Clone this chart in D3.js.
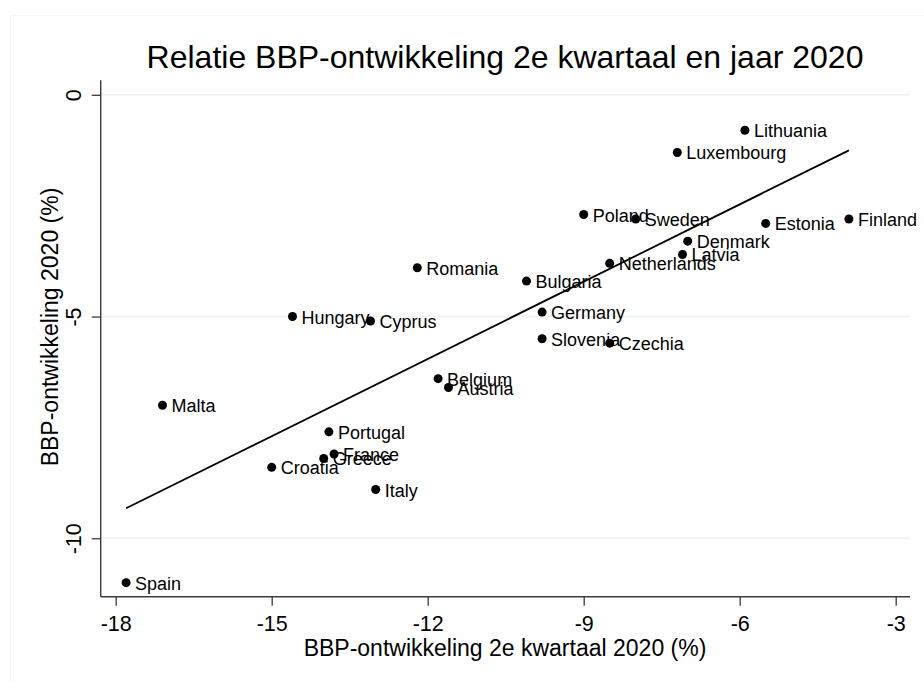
<!DOCTYPE html>
<html>
<head>
<meta charset="utf-8">
<script src="https://cdn.jsdelivr.net/npm/d3@7"></script>
<style>
  html, body { margin: 0; padding: 0; background: #ffffff; }
  svg { display: block; }
  text { font-family: "Liberation Sans", Arial, Helvetica, sans-serif; fill: #000; }
</style>
</head>
<body>
<svg id="chart" width="924" height="682"></svg>
<script>
// ---- data ----
const countries = ["Lithuania","Luxembourg","Poland","Sweden","Estonia","Finland","Denmark","Latvia","Netherlands","Romania","Bulgaria","Germany","Hungary","Cyprus","Slovenia","Czechia","Belgium","Austria","Malta","Portugal","France","Greece","Croatia","Italy","Spain"];
const q2Growth   = [-5.9, -7.2, -9.0, -8.0, -5.5, -3.9, -7.0, -7.1, -8.5, -12.2, -10.1, -9.8, -14.6, -13.1, -9.8, -8.5, -11.8, -11.6, -17.1, -13.9, -13.8, -14.0, -15.0, -13.0, -17.8];
const yearGrowth = [-0.8, -1.3, -2.7, -2.8, -2.9, -2.8, -3.3, -3.6, -3.8, -3.9, -4.2, -4.9, -5.0, -5.1, -5.5, -5.6, -6.4, -6.6, -7.0, -7.6, -8.1, -8.2, -8.4, -8.9, -11.0];
const xTicks = [-18, -15, -12, -9, -6, -3];
const yTicks = [0, -5, -10];
const titleText = "Relatie BBP-ontwikkeling 2e kwartaal en jaar 2020";
const xTitle = "BBP-ontwikkeling 2e kwartaal 2020 (%)";
const yTitle = "BBP-ontwikkeling 2020 (%)";

const data = countries.map((c, i) => ({ name: c, x: q2Growth[i], y: yearGrowth[i] }));

// ---- layout ----
const svg = d3.select("#chart");
const plot = { left: 100.7, right: 910, top: 80.3, bottom: 596.7 };

const x = d3.scaleLinear().domain([-18, -3]).range([115.7, 895.7]);
const y = d3.scaleLinear().domain([0, -10]).range([94.8, 538.3]);
const hyphenFmt = d => String(d); // plain hyphen-minus like the reference

// faint outer region border
svg.append("rect")
  .attr("x", 10.5).attr("y", 15.5).attr("width", 1000).attr("height", 1000)
  .attr("fill", "none").attr("stroke", "#f3f5f6").attr("stroke-width", 1);

// gridlines
svg.append("g").selectAll("line").data(yTicks).join("line")
  .attr("x1", plot.left).attr("x2", plot.right)
  .attr("y1", d => y(d)).attr("y2", d => y(d))
  .attr("stroke", "#eaf2f3").attr("stroke-width", 1.5);

// y axis
const yAxis = d3.axisLeft(y).tickValues(yTicks).tickSize(9).tickPadding(10).tickFormat(hyphenFmt);
const gy = svg.append("g").attr("transform", `translate(${plot.left},0)`).call(yAxis);
gy.select(".domain").remove();
gy.selectAll(".tick line").attr("stroke", "#3c3c3c").attr("stroke-width", 1.3);
gy.selectAll(".tick text")
  .attr("font-size", "21.5px")
  .attr("text-anchor", "middle")
  .attr("x", null).attr("dy", null)
  .attr("transform", "translate(-19.7,0) rotate(-90)");
gy.append("line")
  .attr("x1", 0).attr("x2", 0).attr("y1", plot.top).attr("y2", plot.bottom)
  .attr("stroke", "#3c3c3c").attr("stroke-width", 1.4);

// x axis
const xAxis = d3.axisBottom(x).tickValues(xTicks).tickSize(9).tickPadding(9).tickFormat(hyphenFmt);
const gx = svg.append("g").attr("transform", `translate(0,${plot.bottom})`).call(xAxis);
gx.select(".domain").remove();
gx.selectAll(".tick line").attr("stroke", "#3c3c3c").attr("stroke-width", 1.3);
gx.selectAll(".tick text").attr("font-size", "21.5px").attr("dy", null).attr("y", 34.3);
gx.append("line")
  .attr("x1", plot.left).attr("x2", plot.right).attr("y1", 0).attr("y2", 0)
  .attr("stroke", "#3c3c3c").attr("stroke-width", 1.4);
svg.selectAll(".tick text").style("font-family", "'Liberation Sans', Arial, sans-serif");

// linear fit (OLS on data)
const mx = d3.mean(data, d => d.x), my = d3.mean(data, d => d.y);
const slope = d3.sum(data, d => (d.x - mx) * (d.y - my)) / d3.sum(data, d => (d.x - mx) ** 2);
const intercept = my - slope * mx;
const [xmin, xmax] = d3.extent(data, d => d.x);
svg.append("line")
  .attr("x1", x(xmin)).attr("y1", y(intercept + slope * xmin))
  .attr("x2", x(xmax)).attr("y2", y(intercept + slope * xmax))
  .attr("stroke", "#000").attr("stroke-width", 1.8);

// points
svg.append("g").selectAll("circle").data(data).join("circle")
  .attr("cx", d => x(d.x)).attr("cy", d => y(d.y)).attr("r", 4.5)
  .attr("fill", "#000");

// labels
svg.append("g").selectAll("text").data(data).join("text")
  .attr("x", d => x(d.x) + 9).attr("y", d => y(d.y) + 7)
  .attr("font-size", "18px")
  .text(d => d.name);

// titles
svg.append("text").attr("x", 505).attr("y", 67.5).attr("text-anchor", "middle")
  .attr("font-size", "32px").text(titleText);
svg.append("text").attr("x", 505).attr("y", 656).attr("text-anchor", "middle")
  .attr("font-size", "23px").text(xTitle);
svg.append("text").attr("transform", "translate(57.5,327) rotate(-90)").attr("text-anchor", "middle")
  .attr("font-size", "23px").text(yTitle);
</script>
</body>
</html>
